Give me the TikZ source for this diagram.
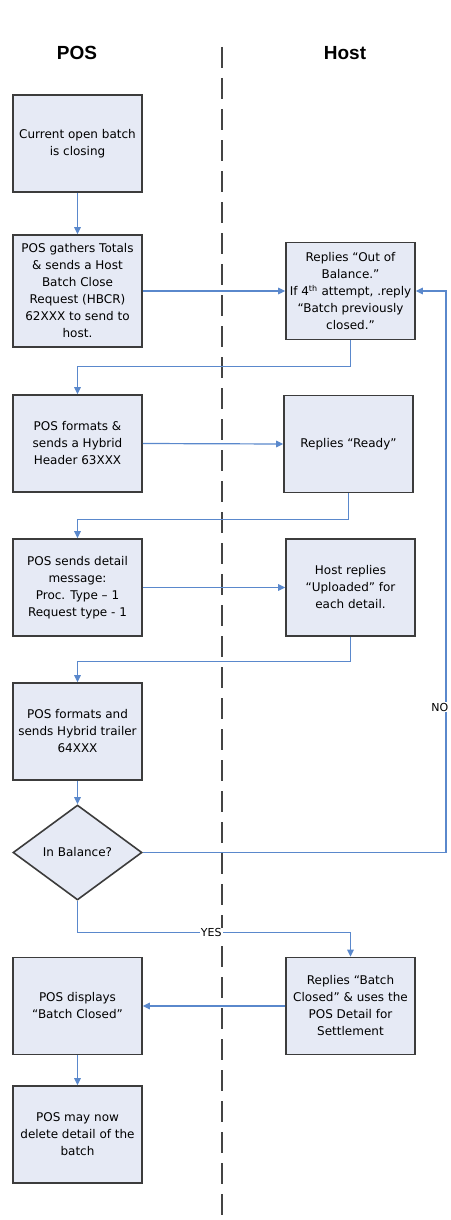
\documentclass[tikz,border=0pt]{standalone}
\usepackage{fontspec}
\setmainfont{DejaVu Sans}
\newfontfamily\titlefont{Liberation Sans}
\usetikzlibrary{arrows.meta,shapes.geometric}
\definecolor{boxfill}{HTML}{E6EAF5}
\definecolor{boxline}{HTML}{3C3C3C}
\definecolor{flow}{HTML}{5A88CC}
\definecolor{lane}{HTML}{444444}
\begin{document}
\begin{tikzpicture}[x=1pt,y=-1pt,
  stepbox/.style={draw=boxline,line width=1.6pt,fill=boxfill,minimum width=129pt,
    minimum height=97pt,inner sep=1pt,align=center,font=\fontsize{12}{17}\selectfont},
  decision/.style={diamond,draw=boxline,line width=1.6pt,fill=boxfill,minimum width=129pt,
    minimum height=95pt,inner sep=0pt,align=center,font=\fontsize{12}{17}\selectfont},
  lanetitle/.style={font=\titlefont\bfseries\fontsize{19}{22}\selectfont},
  flowline/.style={draw=flow,line width=1.2pt,-{Triangle[length=7pt,width=6.5pt]}},
  edgelabel/.style={fill=white,inner sep=1pt,font=\fontsize{11}{12}\selectfont}]
\useasboundingbox (0,0) rectangle (450,1220);
\fill[white] (0,0) rectangle (450,1220);

% swim lane titles and divider
\node[lanetitle] (pos) at (77,53) {POS};
\node[lanetitle] (host) at (345,53) {Host};
\coordinate (divtop) at (222,47);
\coordinate (divbot) at (222,1222);
\draw[lane,line width=1.5pt,dash pattern=on 21pt off 10pt] (divtop) -- (divbot);

% POS side
\node[stepbox] (b1) at (77.5,143.5) {Current open batch\\is closing};
\node[stepbox,minimum height=112pt] (b2) at (77.5,291) {POS gathers Totals\\\& sends a Host\\Batch Close\\Request (HBCR)\\62XXX to send to\\host.};
\node[stepbox] (b3) at (77.5,443.5) {POS formats \&\\sends a Hybrid\\Header 63XXX};
\node[stepbox] (b4) at (77.5,587.5) {POS sends detail\\message:\\Proc. Type – 1\\Request type - 1};
\node[stepbox] (b5) at (77.5,731.5) {POS formats and\\sends Hybrid trailer\\64XXX};
\node[decision] (d) at (77.5,852.5) {In Balance?};
\node[stepbox] (b6) at (77.5,1006) {POS displays\\“Batch Closed”};
\node[stepbox] (b7) at (77.5,1134.5) {POS may now\\delete detail of the\\batch};

% Host side
\node[stepbox] (h1) at (350.5,291) {Replies “Out of\\Balance.”\\If 4\textsuperscript{th} attempt, .reply\\“Batch previously\\closed.”};
\node[stepbox] (h2) at (348.5,444) {Replies “Ready”};
\node[stepbox] (h3) at (350.5,587.5) {Host replies\\“Uploaded” for\\each detail.};
\node[stepbox] (h4) at (350.5,1006) {Replies “Batch\\Closed” \& uses the\\POS Detail for\\Settlement};

% flow connectors
\draw[flowline] (b1) -- (b2);
\draw[flowline] (b2.east |- h1.west) -- (h1.west);
\draw[flowline] (h1.south) -- ++(0,26) -| (b3.north);
\draw[flowline] (b3.east) -- (h2.west);
\draw[flowline] (h2.south) -- ++(0,26) -| (b4.north);
\draw[flowline] (b4.east) -- (h3.west);
\draw[flowline] (h3.south) -- ++(0,25) -| (b5.north);
\draw[flowline] (b5) -- (d);
\coordinate (noturn) at (446,852.5);
\draw[flowline] (d.east) -- (noturn) |- (h1.east);
\node[edgelabel,anchor=east] (nolabel) at (449.5,707) {NO};
\draw[flowline] (d.south) -- ++(0,32) -| (h4.north)
  node[edgelabel,pos=0.245] (yeslabel) {YES};
\draw[flowline] (h4.west) -- (b6.east);
\draw[flowline] (b6) -- (b7);
\end{tikzpicture}
\end{document}
